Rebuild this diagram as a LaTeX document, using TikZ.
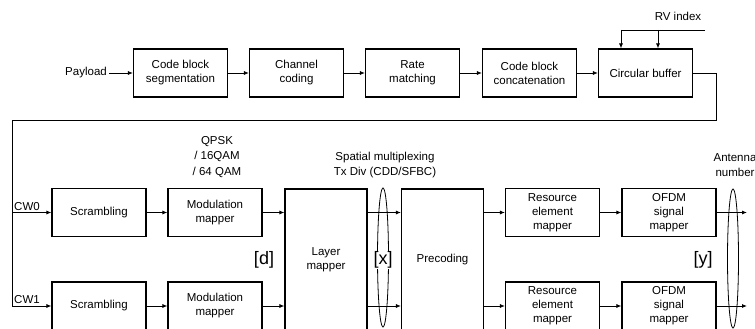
\documentclass[tikz,border=0pt]{standalone}
\usepackage{fontspec}
\setmainfont{Liberation Sans}
\usetikzlibrary{arrows.meta,shapes.geometric,calc}
\begin{document}
\begin{tikzpicture}[x=1pt,y=-1pt,
  font=\fontsize{11.5}{14}\selectfont,
  blk/.style={draw, line width=1.1pt, align=center, inner sep=1pt},
  wide/.style={blk, minimum width=94, minimum height=48},
  tall/.style={blk, minimum width=82, minimum height=142},
  arr/.style={line width=0.8pt, -{Latex[length=5pt,width=4pt]}},
  ln/.style={line width=0.8pt},
  lbl/.style={align=center, inner sep=0pt, font=\fontsize{11.5}{15.5}\selectfont},
  brk/.style={font=\fontsize{18}{20}\selectfont, fill=white, inner sep=1pt},
  ell/.style={draw, ellipse, line width=0.8pt, minimum width=11, minimum height=139, inner sep=0pt}
]
\useasboundingbox (0,0) rectangle (755,329);

% top row
\node[wide] (cbs) at (180.5,73) {Code block\\segmentation};
\node[wide] (cc)  at (296.5,73) {Channel\\coding};
\node[wide] (rm)  at (412.5,73) {Rate\\matching};
\node[wide] (cbc) at (529.5,73) {Code block\\concatenation};
\node[wide] (cb)  at (645.5,73) {Circular buffer};
\node[lbl, anchor=east, inner xsep=2pt] (pl) at (109,73) {Payload};

\draw[arr] (pl.east) -- (cbs.west);
\draw[arr] (cbs.east) -- (cc.west);
\draw[arr] (cc.east) -- (rm.west);
\draw[arr] (rm.east) -- (cbc.west);
\draw[arr] (cbc.east) -- (cb.west);

% RV index
\node[lbl] (rv) at (678,16) {RV index};
\coordinate (rvE) at (705,30);
\coordinate (rvA) at (621,30);
\coordinate (rvB) at (658,30);
\draw[ln] (rvE) -- (rvA);
\draw[arr] (rvA) -- (rvA |- cb.north);
\draw[arr] (rvB) -- (rvB |- cb.north);

% lower rows
\node[wide] (sc0) at (99,212.5) {Scrambling};
\node[wide] (mm0) at (215,212.5) {Modulation\\mapper};
\node[wide] (sc1) at (99,306) {Scrambling};
\node[wide] (mm1) at (215,306) {Modulation\\mapper};
\node[tall] (lm) at (326,260) {Layer\\mapper};
\node[tall] (pc) at (442.5,260) {Precoding};
\node[wide] (re0) at (552.5,212.5) {Resource\\element\\mapper};
\node[wide] (of0) at (669,212.5) {OFDM\\signal\\mapper};
\node[wide] (re1) at (552.5,306) {Resource\\element\\mapper};
\node[wide] (of1) at (669,306) {OFDM\\signal\\mapper};

% loop from circular buffer
\coordinate (c1) at (716,120);
\coordinate (c2) at (12,120);
\draw[arr] (cb.east) -| (c1) -- (c2) |- (sc1.west);
\draw[arr] (c2 |- sc0.west) -- (sc0.west);
\node[lbl, anchor=base west] (cw0) at (14,210) {CW0};
\node[lbl, anchor=base west] (cw1) at (14,303) {CW1};

% row connectors
\draw[arr] (sc0.east) -- (mm0.west);
\draw[arr] (sc1.east) -- (mm1.west);
\draw[arr] (mm0.east) -- (mm0.east -| lm.west);
\draw[arr] (mm1.east) -- (mm1.east -| lm.west);
\draw[arr] (lm.east |- mm0.east) -- (pc.west |- mm0.east);
\draw[arr] (lm.east |- mm1.east) -- (pc.west |- mm1.east);
\draw[arr] (pc.east |- re0.west) -- (re0.west);
\draw[arr] (pc.east |- re1.west) -- (re1.west);
\draw[arr] (re0.east) -- (of0.west);
\draw[arr] (re1.east) -- (of1.west);
\coordinate (o0) at (747,212.5);
\coordinate (o1) at (747,306);
\draw[arr] (of0.east) -- (o0);
\draw[arr] (of1.east) -- (o1);

% ellipses and labels
\node[ell] (e1) at (383,257.5) {};
\node[ell] (e2) at (733,258.5) {};
\node[brk] (bd) at (264,260) {[d]};
\node[brk] (bx) at (383,260) {[x]};
\node[brk] (by) at (703,260) {[y]};

\node[lbl] (qp) at (217,157) {QPSK\\/ 16QAM\\/ 64 QAM};
\node[lbl] (sm) at (385,165) {Spatial multiplexing\\Tx Div (CDD/SFBC)};
\node[lbl] (ant) at (735,165) {Antenna\\number};
\end{tikzpicture}
\end{document}
